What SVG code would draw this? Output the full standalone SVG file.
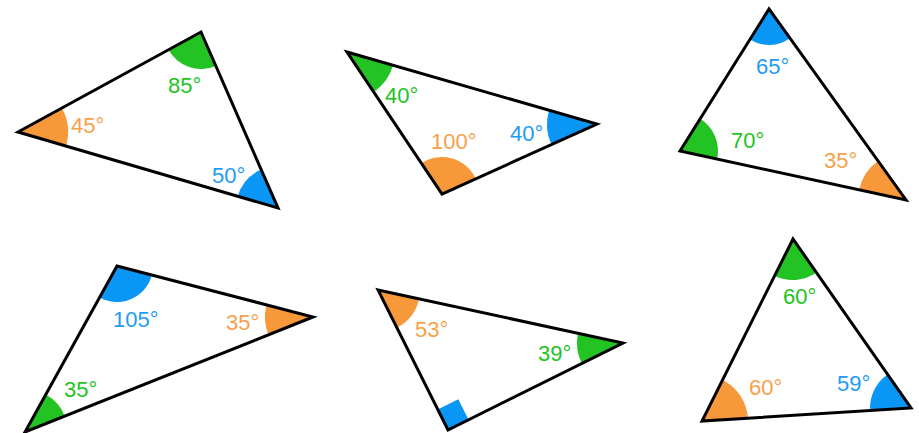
<svg xmlns="http://www.w3.org/2000/svg" width="919" height="433" viewBox="0 0 919 433">
<style>
.o{fill:#F7983A}.g{fill:#22C322}.b{fill:#0A96F5}
.tri{fill:none;stroke:#000;stroke-width:3;stroke-linejoin:miter}
text{font-family:"Liberation Sans",Arial,sans-serif;font-size:22px}
.to{fill:#F8A04A}.tg{fill:#22C322}.tb{fill:#1E9BF5}
</style>
<rect width="919" height="433" fill="#fff"/>
<g id="t1">
<path class="o" d="M18,132 L61.9,108 A50,50 0 0 1 66,146 Z"/>
<path class="g" d="M201,32 L168.5,49.7 A37,37 0 0 0 215.8,65.9 Z"/>
<path class="b" d="M278,208 L261.2,169.5 A42,42 0 0 0 237.7,196.2 Z"/>
<polygon class="tri" points="18,132 201,32 278,208"/>
<text class="tg" x="168" y="93">85°</text>
<text class="to" x="71" y="133">45°</text>
<text class="tb" x="212" y="183">50°</text>
</g>
<g id="t2">
<path class="g" d="M347,52 L393.1,65.3 A48,48 0 0 1 373.7,91.9 Z"/>
<path class="b" d="M597,124 L549,110.2 A50,50 0 0 0 551.4,144.6 Z"/>
<path class="o" d="M442,194 L421.4,163.2 A37,37 0 0 1 475.7,178.8 Z"/>
<polygon class="tri" points="347,52 597,124 442,194"/>
<text class="tg" x="385" y="103">40°</text>
<text class="to" x="431" y="149">100°</text>
<text class="tb" x="510" y="141">40°</text>
</g>
<g id="t3">
<path class="b" d="M769,9 L749.9,39.5 A36,36 0 0 0 790,38.3 Z"/>
<path class="g" d="M680,151 L700.2,118.8 A38,38 0 0 1 717.1,159.1 Z"/>
<path class="o" d="M906,200 L878,161 A48,48 0 0 0 859.1,189.8 Z"/>
<polygon class="tri" points="769,9 680,151 906,200"/>
<text class="tb" x="756" y="74">65°</text>
<text class="tg" x="731" y="148">70°</text>
<text class="to" x="824" y="168">35°</text>
</g>
<g id="t4">
<path class="b" d="M117,266 L151.8,275.1 A36,36 0 0 1 99.6,297.5 Z"/>
<path class="o" d="M313,317 L266.5,304.9 A48,48 0 0 0 268.4,334.8 Z"/>
<path class="g" d="M25,432 L45.8,394.4 A43,43 0 0 1 64.9,416.1 Z"/>
<polygon class="tri" points="117,266 313,317 25,432"/>
<text class="tb" x="113" y="327">105°</text>
<text class="to" x="226" y="330">35°</text>
<text class="tg" x="64" y="397">35°</text>
</g>
<g id="t5">
<path class="o" d="M378,290 L419,298.9 A42,42 0 0 1 396.8,327.6 Z"/>
<path class="g" d="M623,343 L578,333.3 A46,46 0 0 0 581.8,363.5 Z"/>
<polygon class="b" points="448,430 437.7,409.4 458.3,399.2 468.6,419.8"/>
<polygon class="tri" points="378,290 623,343 448,430"/>
<text class="to" x="415" y="337">53°</text>
<text class="tg" x="538" y="361">39°</text>
</g>
<g id="t6">
<path class="g" d="M793,239 L774.7,275.7 A41,41 0 0 0 816.5,272.6 Z"/>
<path class="o" d="M702,421 L722.6,379.9 A46,46 0 0 1 747.9,418.1 Z"/>
<path class="b" d="M911,408 L887.5,374.4 A41,41 0 0 0 870.1,410.5 Z"/>
<polygon class="tri" points="793,239 702,421 911,408"/>
<text class="tg" x="783" y="304">60°</text>
<text class="to" x="749" y="395">60°</text>
<text class="tb" x="837" y="391">59°</text>
</g>
</svg>
